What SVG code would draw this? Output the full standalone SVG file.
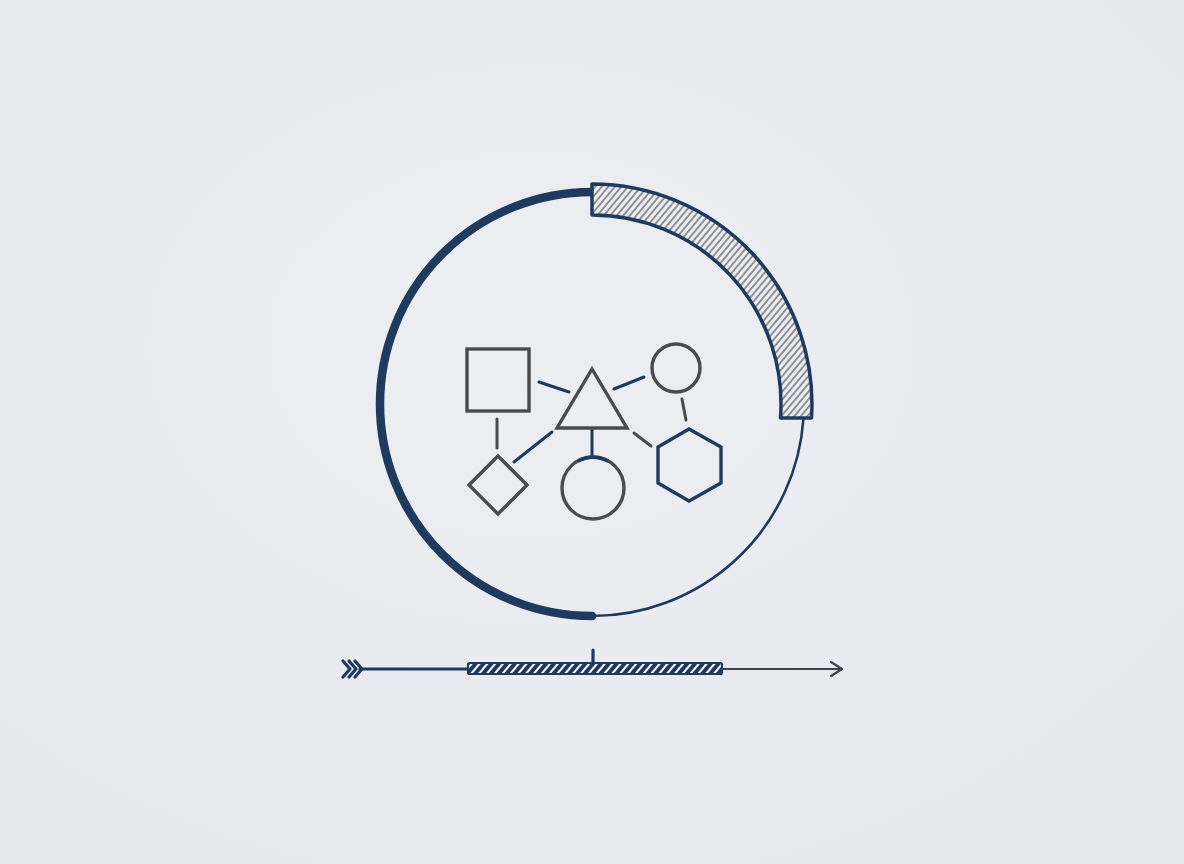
<svg xmlns="http://www.w3.org/2000/svg" width="1184" height="864" viewBox="0 0 1184 864">
<defs>
<radialGradient id="bg" cx="0.45" cy="0.4" r="0.8">
<stop offset="0" stop-color="#eceef2"/>
<stop offset="1" stop-color="#e5e8ed"/>
</radialGradient>
<pattern id="hatch" patternUnits="userSpaceOnUse" width="5" height="5" patternTransform="rotate(40)">
<rect width="5" height="5" fill="#eceef1"/>
<line x1="1" y1="0" x2="1" y2="5" stroke="#3f444c" stroke-width="1.1"/>
</pattern>
<pattern id="barhatch" patternUnits="userSpaceOnUse" width="6" height="6" patternTransform="rotate(40)">
<rect width="6" height="6" fill="#1e3a5f"/>
<line x1="2" y1="0" x2="2" y2="6" stroke="#ffffff" stroke-width="2"/>
</pattern>
<style>
.navy{stroke:#1e3a5f;fill:none}
.gray{stroke:#4a4b50;fill:none;stroke-width:3.4}
.conn{stroke-width:3;stroke-linecap:round;fill:none}
</style>
</defs>
<rect width="1184" height="864" fill="url(#bg)"/>

<g id="ring">
<path class="navy" d="M592 192 A212 212 0 0 0 592 616" stroke-width="8.5" stroke-linecap="round"/>
<path class="navy" d="M592 616 A212 212 0 0 0 803.5 418" stroke-width="2.6"/>
<path d="M592 184 A220 220 0 0 1 811.5 418 L780.5 418 A189 189 0 0 0 592 215 Z" fill="url(#hatch)" stroke="#1e3a5f" stroke-width="3.5" stroke-linejoin="round"/>
</g>

<g id="connectors">
<line class="conn" x1="539" y1="382" x2="569" y2="392" stroke="#1e3a5f"/>
<line class="conn" x1="614" y1="389" x2="644" y2="377" stroke="#1e3a5f"/>
<line class="conn" x1="497" y1="419" x2="497" y2="448" stroke="#4a4b50"/>
<line class="conn" x1="552" y1="432" x2="514" y2="462" stroke="#1e3a5f"/>
<line class="conn" x1="592" y1="429" x2="592" y2="456" stroke="#1e3a5f"/>
<line class="conn" x1="634" y1="433" x2="651" y2="446" stroke="#4a4b50"/>
<line class="conn" x1="682" y1="399" x2="686" y2="420" stroke="#4a4b50"/>
</g>

<g id="square"><rect class="gray" x="467" y="349" width="62" height="62"/></g>
<g id="triangle"><polygon class="gray" points="592,369 557,428 627,428"/></g>
<g id="circle-top"><circle class="gray" cx="676" cy="368" r="24"/></g>
<g id="hexagon"><polygon points="689,429 721,447 721,483 689,501 658,483 658,447" fill="none" stroke="#1e3a5f" stroke-width="3.4"/></g>
<g id="circle-bottom">
<circle class="gray" cx="593" cy="488" r="31"/>
<path d="M578 461 A31 31 0 0 1 608 461" fill="none" stroke="#1e3a5f" stroke-width="3.5"/>
</g>
<g id="diamond"><polygon class="gray" points="498,456 527,485 498,514 469,485"/></g>

<g id="timeline">
<g fill="none" stroke="#1e3a5f" stroke-width="3.2" stroke-linecap="round" stroke-linejoin="round">
<polyline points="343,661 350,669 343,677"/>
<polyline points="349,661 356,669 349,677"/>
<polyline points="355,661 362,669 355,677"/>
<line x1="360" y1="669" x2="468" y2="669"/>
<line x1="593" y1="650" x2="593" y2="663"/>
</g>
<rect x="468" y="663" width="254" height="11" rx="1.5" fill="url(#barhatch)" stroke="#1e3a5f" stroke-width="2.2"/>
<g fill="none" stroke="#3d4450" stroke-width="2.2" stroke-linecap="round" stroke-linejoin="round">
<line x1="722" y1="669" x2="842" y2="669"/>
<polyline points="831,662 842,669 831,676"/>
</g>
</g>
</svg>
